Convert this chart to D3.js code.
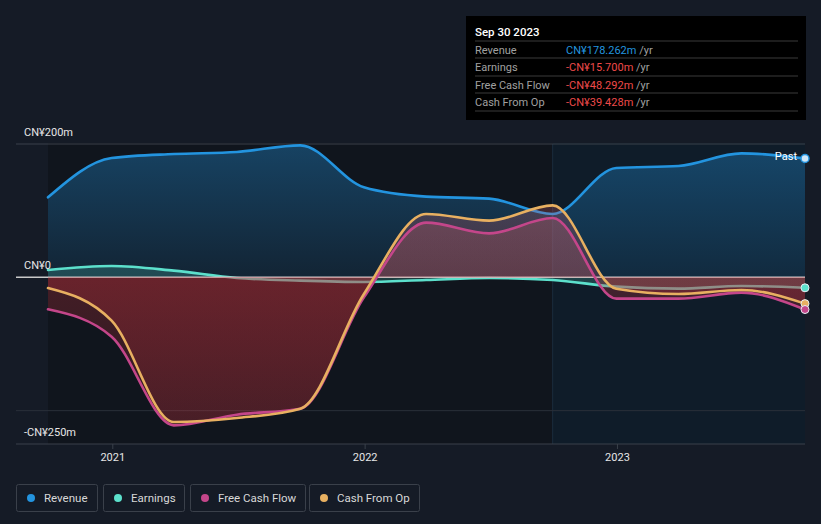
<!DOCTYPE html>
<html>
<head>
<meta charset="utf-8">
<script src="https://cdn.jsdelivr.net/npm/d3@7/dist/d3.min.js"></script>
<style>
  html, body { margin: 0; padding: 0; background: #151b26; }
  svg { display: block; }
  text { font-family: Roboto, "Noto Sans", sans-serif; }
</style>
</head>
<body>
<svg id="chart" width="821" height="524"></svg>
<script>
// ---- data (CN¥ millions, trailing twelve months) ----
const dates = ["2020-09-30","2020-12-31","2021-03-31","2021-06-30","2021-09-30","2021-12-31","2022-03-31","2022-06-30","2022-09-30","2022-12-31","2023-03-31","2023-06-30","2023-09-30"];
const revenue = [120, 179, 185, 188, 198, 135, 121, 118, 95, 164, 167, 186, 178.262];
const earnings = [11, 17, 10, -1, -5, -7, -4, -1, -4, -14, -17, -13, -15.7];
const freeCashFlow = [-48, -89, -222, -206, -197, -30, 82, 66, 89, -32, -32, -23, -48.292];
const cashFromOp = [-16, -65, -217, -211, -197, -25, 95, 85, 108, -17, -25, -19, -39.428];
const yTickLabels = [{v: 200, t: "CN¥200m"}, {v: 0, t: "CN¥0"}, {v: -250, t: "-CN¥250m"}];
const xTickYears = ["2021", "2022", "2023"];
const pastStart = "2022-09-30";
const tooltipTitle = "Sep 30 2023";
const tooltipRows = [
  {label: "Revenue", value: "CN¥178.262m", neg: false},
  {label: "Earnings", value: "-CN¥15.700m", neg: true},
  {label: "Free Cash Flow", value: "-CN¥48.292m", neg: true},
  {label: "Cash From Op", value: "-CN¥39.428m", neg: true}
];
const seriesNames = ["Revenue", "Earnings", "Free Cash Flow", "Cash From Op"];

// ---- setup ----
const parse = d3.timeParse("%Y-%m-%d");
const D = dates.map(parse);
const svg = d3.select("#chart");
const pLeft = 16, pRight = 805, pTop = 144, pBottom = 444;

const x = d3.scaleTime().domain([D[0], D[D.length - 1]]).range([48, 805]);
const y = d3.scaleLinear().domain([-250, 200]).range([pBottom, pTop]);

const colors = {
  rev: "#2394df", earn: "#5ce0cc", fcf: "#c4468a", cfo: "#e8b061"
};

const defs = svg.append("defs");
const g1 = defs.append("linearGradient").attr("id", "revGrad").attr("x1", 0).attr("x2", 0)
  .attr("gradientUnits", "userSpaceOnUse").attr("y1", y(200)).attr("y2", y(0));
g1.append("stop").attr("offset", 0).attr("stop-color", "#2394df").attr("stop-opacity", 0.36);
g1.append("stop").attr("offset", 1).attr("stop-color", "#2394df").attr("stop-opacity", 0.12);
const g2 = defs.append("linearGradient").attr("id", "negGrad").attr("x1", 0).attr("x2", 0)
  .attr("gradientUnits", "userSpaceOnUse").attr("y1", y(0)).attr("y2", y(-230));
g2.append("stop").attr("offset", 0).attr("stop-color", "#c8323c").attr("stop-opacity", 0.28);
g2.append("stop").attr("offset", 1).attr("stop-color", "#c8323c").attr("stop-opacity", 0.16);
const g3 = defs.append("linearGradient").attr("id", "posGrad").attr("x1", 0).attr("x2", 0)
  .attr("gradientUnits", "userSpaceOnUse").attr("y1", y(110)).attr("y2", y(0));
g3.append("stop").attr("offset", 0).attr("stop-color", "#d0606a").attr("stop-opacity", 0.26);
g3.append("stop").attr("offset", 1).attr("stop-color", "#d0606a").attr("stop-opacity", 0.22);

// plot backgrounds
svg.append("rect").attr("x", x(D[0])).attr("y", pTop - 1).attr("width", x(parse(pastStart)) - x(D[0]))
  .attr("height", pBottom - pTop + 1).attr("fill", "#10151d");
svg.append("rect").attr("x", x(parse(pastStart))).attr("y", pTop - 1).attr("width", x(D[D.length - 1]) - x(parse(pastStart)))
  .attr("height", pBottom - pTop + 1).attr("fill", "#0f1c29");
svg.append("line").attr("x1", x(parse(pastStart))).attr("x2", x(parse(pastStart)))
  .attr("y1", pTop).attr("y2", pBottom).attr("stroke", "#1b2c3d").attr("stroke-width", 1);

// gridlines
svg.append("line").attr("x1", pLeft).attr("x2", pRight).attr("y1", y(200)).attr("y2", y(200))
  .attr("stroke", "#3a404a").attr("stroke-width", 1);
svg.append("line").attr("x1", pLeft).attr("x2", pRight).attr("y1", y(-200)).attr("y2", y(-200))
  .attr("stroke", "#2a303a").attr("stroke-width", 1);

const curve = d3.curveMonotoneX;
const idx = d3.range(D.length);
function area(vals) {
  return d3.area().curve(curve).x(i => x(D[i])).y0(y(0)).y1(i => y(vals[i]))(idx);
}
function line(vals) {
  return d3.line().curve(curve).x(i => x(D[i])).y(i => y(vals[i]))(idx);
}
function drawLine(v, c) {
  svg.append("path").attr("d", line(v)).attr("fill", "none").attr("stroke", c).attr("stroke-width", 2.6)
    .attr("stroke-linejoin", "round").attr("stroke-linecap", "round");
}

// revenue & earnings
svg.append("path").attr("d", area(revenue)).attr("fill", "url(#revGrad)");
drawLine(revenue, colors.rev);
svg.append("path").attr("d", area(earnings)).attr("fill", colors.earn).attr("fill-opacity", 0.2);
drawLine(earnings, colors.earn);

// zero line
svg.append("line").attr("x1", pLeft).attr("x2", pRight).attr("y1", y(0)).attr("y2", y(0))
  .attr("stroke", "#c9c9c9").attr("stroke-width", 1.5);

// cash flow areas (clipped into positive / negative parts)
const clipPos = defs.append("clipPath").attr("id", "clipPos");
clipPos.append("rect").attr("x", 0).attr("y", 0).attr("width", 821).attr("height", y(0));
const clipNeg = defs.append("clipPath").attr("id", "clipNeg");
clipNeg.append("rect").attr("x", 0).attr("y", y(0)).attr("width", 821).attr("height", 524 - y(0));
[freeCashFlow, cashFromOp].forEach(v => {
  svg.append("path").attr("d", area(v)).attr("fill", "url(#negGrad)").attr("clip-path", "url(#clipNeg)");
  svg.append("path").attr("d", area(v)).attr("fill", "url(#posGrad)").attr("clip-path", "url(#clipPos)");
});
drawLine(freeCashFlow, colors.fcf);
drawLine(cashFromOp, colors.cfo);

// bottom axis
svg.append("line").attr("x1", pLeft).attr("x2", pRight).attr("y1", pBottom).attr("y2", pBottom)
  .attr("stroke", "#3a404a").attr("stroke-width", 1);
const axis = d3.axisBottom(x).tickValues(xTickYears.map(s => parse(s + "-01-01"))).tickFormat(d3.timeFormat("%Y")).tickSize(5).tickPadding(4);
const ax = svg.append("g").attr("transform", `translate(0,${pBottom})`).call(axis);
ax.select(".domain").remove();
ax.selectAll(".tick line").attr("stroke", "#3a404a");
ax.selectAll(".tick text").attr("fill", "#e6e6e6").attr("font-size", 11).attr("font-family", "Roboto, sans-serif");

// y labels
yTickLabels.forEach(d => {
  svg.append("text").attr("x", 24).attr("y", y(d.v) - 8)
    .attr("fill", "#e6e6e6").attr("font-size", 11).text(d.t);
});

// end markers
const last = D.length - 1;
[[cashFromOp, colors.cfo], [freeCashFlow, colors.fcf], [earnings, colors.earn]].forEach(([v, c]) => {
  svg.append("circle").attr("cx", x(D[last])).attr("cy", y(v[last])).attr("r", 4)
    .attr("fill", c).attr("stroke", "#e8eef5").attr("stroke-width", 1);
});
svg.append("circle").attr("cx", x(D[last])).attr("cy", y(revenue[last])).attr("r", 4)
  .attr("fill", "#cfe6f7").attr("stroke", colors.rev).attr("stroke-width", 1.5);
svg.append("text").attr("x", x(D[last]) - 8).attr("y", y(revenue[last]) + 2).attr("text-anchor", "end")
  .attr("fill", "#ffffff").attr("font-size", 11).text("Past");

// tooltip
const tt = svg.append("g").attr("transform", "translate(466,16)");
tt.append("rect").attr("width", 340).attr("height", 104).attr("fill", "#000000");
tt.append("text").attr("x", 9).attr("y", 20).attr("fill", "#ffffff").attr("font-size", 11.5).attr("font-weight", 500).text(tooltipTitle);
const rowY = [25, 42, 60, 77];
tooltipRows.forEach((r, i) => {
  tt.append("line").attr("x1", 9).attr("x2", 332).attr("y1", rowY[i]).attr("y2", rowY[i]).attr("stroke", "#3a3a3a");
  tt.append("text").attr("x", 9).attr("y", rowY[i] + 13).attr("fill", "#a0a0a0").attr("font-size", 11).text(r.label);
  const t = tt.append("text").attr("x", 100).attr("y", rowY[i] + 13).attr("font-size", 11);
  t.append("tspan").attr("fill", r.neg ? "#ee4a4a" : "#2394df").text(r.value);
  t.append("tspan").attr("fill", "#a0a0a0").text(" /yr");
});
tt.append("line").attr("x1", 9).attr("x2", 332).attr("y1", 95).attr("y2", 95).attr("stroke", "#3a3a3a");

// legend
const legendBoxes = [{x: 16, w: 81}, {x: 103, w: 81}, {x: 190, w: 115}, {x: 309, w: 110}];
const legendColors = [colors.rev, colors.earn, colors.fcf, colors.cfo];
seriesNames.forEach((n, i) => {
  const lg = svg.append("g").attr("transform", `translate(${legendBoxes[i].x},484)`);
  lg.append("rect").attr("x", 0.5).attr("y", 0.5).attr("width", legendBoxes[i].w).attr("height", 27).attr("rx", 2)
    .attr("fill", "none").attr("stroke", "#3a404a");
  lg.append("circle").attr("cx", 15).attr("cy", 14).attr("r", 4).attr("fill", legendColors[i]);
  lg.append("text").attr("x", 28).attr("y", 18).attr("fill", "#d8d8d8").attr("font-size", 11.5).text(n);
});
</script>
</body>
</html>
